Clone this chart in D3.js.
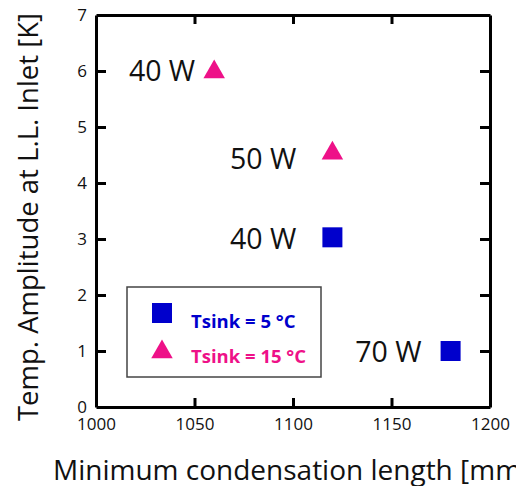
<!DOCTYPE html>
<meta charset="utf-8">
<body style="margin:0;background:#fff">
<script src="https://cdn.jsdelivr.net/npm/d3@7"></script>
<script>

var W = 516, H = 486
var M = {l: 96, r: 26, t: 15, b: 79}

// data
var sink5 = [{x: 1120, y: 3.03, lab: '40 W'}, {x: 1180, y: 1.0, lab: '70 W'}]
var sink15 = [{x: 1060, y: 6.0, lab: '40 W'}, {x: 1120, y: 4.55, lab: '50 W'}]
var xTicks = [1000, 1050, 1100, 1150, 1200]
var yTicks = [0, 1, 2, 3, 4, 5, 6, 7]
var legendItems = ['Tsink = 5 °C', 'Tsink = 15 °C']

// where the power labels sit, relative to their marker
var lab5Off = [[-36, 1], [-29, 1]]
var lab15Off = [[-19, 0], [-36, 7]]

var blue = '#0000cc', pink = '#ee1188'
var font = 'Open Sans, sans-serif'

var svg = d3.select('body').append('svg')
    .attr('width', W).attr('height', H)
    .style('font-family', font)

var x = d3.scaleLinear().domain([1000, 1200]).range([M.l, W - M.r])
var y = d3.scaleLinear().domain([0, 7]).range([H - M.b, M.t])

var g = svg.append('g')

// axes, ticks pointing inward
var ax = (gen, tx, ty) => {
  var a = g.append('g').attr('transform', `translate(${tx},${ty})`).call(gen)
  a.select('.domain').attr('stroke', '#000').attr('stroke-width', 3)
  a.selectAll('.tick line').attr('stroke', '#000').attr('stroke-width', 3)
  a.selectAll('.tick text').attr('fill', '#111').style('font-family', font).attr('font-size', 17)
  return a
}
var bx = ax(d3.axisBottom(x).tickValues(xTicks).tickFormat(d3.format('d'))
  .tickSize(-9).tickSizeOuter(0).tickPadding(5), 0, y(0))
bx.selectAll('.tick text').attr('dy', '1.05em')
ax(d3.axisTop(x).tickValues(xTicks).tickSize(-9).tickSizeOuter(0).tickFormat(''), 0, y(7))
ax(d3.axisLeft(y).tickValues(yTicks).tickFormat(d3.format('d'))
  .tickSize(-10).tickSizeOuter(0).tickPadding(9), x(1000), 0)
ax(d3.axisRight(y).tickValues(yTicks).tickSize(-10).tickSizeOuter(0).tickFormat(''), x(1200), 0)
g.selectAll('.tick').filter(d => d == 0 || d == 7 || d == 1000 || d == 1200).select('line').remove()

// titles
svg.append('text')
  .attr('transform', `translate(38,${(y(0) + y(7)) / 2 + 6}) rotate(-90)`)
  .attr('text-anchor', 'middle')
  .attr('font-size', 27.5).attr('fill', '#111')
  .text('Temp. Amplitude at L.L. Inlet [K]')
svg.append('text')
  .attr('x', 53).attr('y', 480)
  .attr('font-size', 28).attr('fill', '#111')
  .text('Minimum condensation length [mm]')

var sq = 20
var tri = d3.symbol().type(d3.symbolTriangle).size(200)

g.selectAll('.s5').data(sink5).enter().append('rect')
  .attr('x', d => x(d.x) - sq / 2).attr('y', d => y(d.y) - sq / 2)
  .attr('width', sq).attr('height', sq).attr('fill', blue)
g.selectAll('.s15').data(sink15).enter().append('path')
  .attr('d', tri)
  .attr('transform', d => `translate(${x(d.x)},${y(d.y) + 1})`)
  .attr('fill', pink)

// point labels
var labs = sink5.map((d, i) => ({x: d.x, y: d.y, lab: d.lab, o: lab5Off[i]}))
  .concat(sink15.map((d, i) => ({x: d.x, y: d.y, lab: d.lab, o: lab15Off[i]})))
g.selectAll('.lab').data(labs).enter().append('text')
  .attr('x', d => x(d.x) + d.o[0])
  .attr('y', d => y(d.y) + d.o[1])
  .attr('dy', '0.36em')
  .attr('text-anchor', 'end')
  .attr('font-size', 28.5).attr('fill', '#111')
  .text(d => d.lab)

// legend
var lg = svg.append('g')
lg.append('rect').attr('x', 127).attr('y', 287).attr('width', 194).attr('height', 90)
  .attr('fill', 'none').attr('stroke', '#444').attr('stroke-width', 1.5)
lg.append('rect').attr('x', 152).attr('y', 303).attr('width', sq).attr('height', sq).attr('fill', blue)
lg.append('path').attr('d', tri).attr('transform', 'translate(162,352)').attr('fill', pink)
lg.selectAll('.lt').data(legendItems).enter().append('text')
  .attr('x', 191).attr('y', (d, i) => 328 + i * 35)
  .attr('font-size', 18.5).attr('font-weight', 'bold')
  .attr('fill', (d, i) => i ? pink : blue)
  .text(d => d)

</script>
</body>
